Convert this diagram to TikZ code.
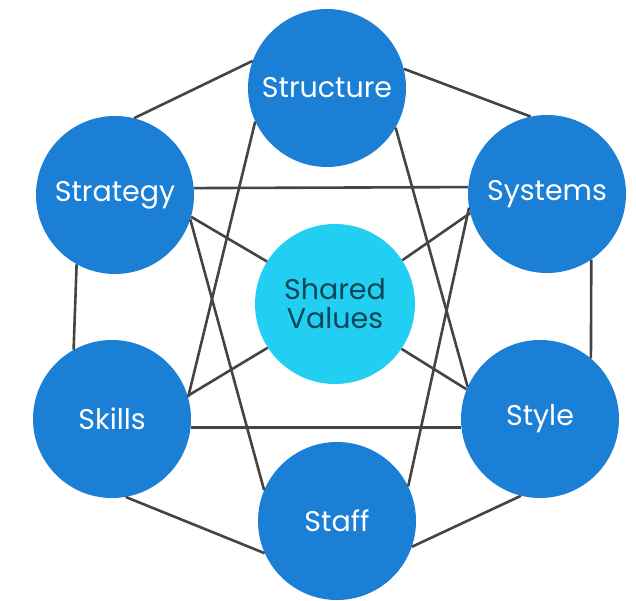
\documentclass[tikz,border=0pt]{standalone}
\usepackage{fontspec}
\setmainfont{Poppins}
\definecolor{circblue}{HTML}{1B7FD6}
\definecolor{circcyan}{HTML}{22CFF2}
\definecolor{sharedtext}{HTML}{0E4656}
\definecolor{linegray}{HTML}{444444}
\begin{document}
\begin{tikzpicture}[x=1pt,y=-1pt,
  sbox/.style={circle,fill=circblue,minimum size=158pt,inner sep=0pt,text=white,font=\fontsize{28.5}{29}\selectfont},
  cbox/.style={circle,fill=circcyan,minimum size=160pt,inner sep=0pt,text=sharedtext,align=center,font=\fontsize{28.5}{29}\selectfont},
  link/.style={draw=linegray,line width=2.6pt}]
\useasboundingbox (0,0) rectangle (636,601);
\node[sbox] (structure) at (327,88) {Structure};
\node[sbox] (strategy) at (115,195) {Strategy};
\node[sbox] (systems) at (547,194) {Systems};
\node[cbox] (shared) at (335,304) {Shared\\Values};
\node[sbox] (skills) at (112,419) {Skills};
\node[sbox] (style) at (540,419) {Style};
\node[sbox] (staff) at (337,521) {Staff};
% outer hexagon
\draw[link] (strategy.76) -- (structure.160);
\draw[link] (structure.14) -- (systems.102);
\draw[link] (systems.-56) -- (style.50);
\draw[link] (style.256) -- (staff.341);
\draw[link] (staff.204) -- (skills.280);
\draw[link] (skills.119) -- (strategy.241);
% horizontals
\draw[link] (strategy.5) -- (systems.175);
\draw[link] (skills.-6) -- (style.186);
% diagonals
\draw[link] (structure.205) -- (skills.16);
\draw[link] (structure.330) -- (style.156);
\draw[link] (strategy.342) -- (staff.157);
\draw[link] (systems.190) -- (staff.26);
% to shared values
\draw[link] (strategy.344) -- (shared.148);
\draw[link] (systems.194) -- (shared.33);
\draw[link] (skills.17) -- (shared.213);
\draw[link] (style.158) -- (shared.326);
\end{tikzpicture}
\end{document}
